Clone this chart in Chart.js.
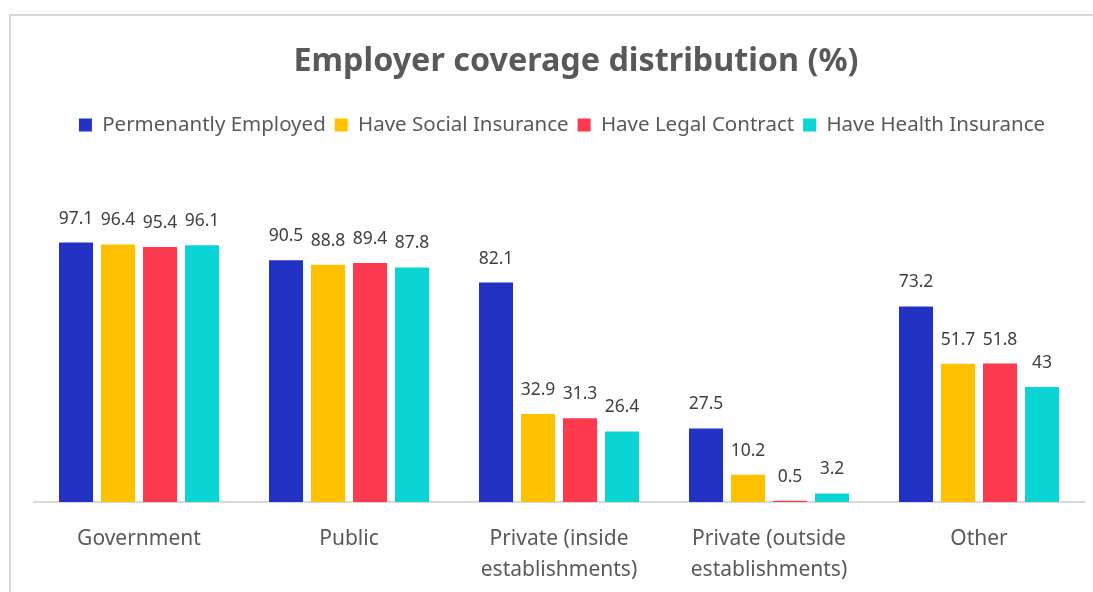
<!DOCTYPE html>
<html>
<head>
<meta charset="utf-8">
<script src="https://cdn.jsdelivr.net/npm/chart.js@4.4.1/dist/chart.umd.min.js"></script>
<style>
  html, body { margin: 0; padding: 0; background: #ffffff; overflow: hidden; }
  #frame {
    position: absolute; left: 9px; top: 14px; width: 1200px; height: 700px;
    border-left: 2px solid #d9d9d9; border-top: 2px solid #d9d9d9;
  }
  #chart { position: absolute; left: 0; top: 0; }
</style>
</head>
<body>
<div id="frame"></div>
<canvas id="chart" width="1093" height="607"></canvas>
<script>
// Employer types and coverage shares (%)
const categories = [
  'Government',
  'Public',
  ['Private (inside', 'establishments)'],
  ['Private (outside', 'establishments)'],
  'Other'
];
const seriesNames = [
  'Permenantly Employed',
  'Have Social Insurance',
  'Have Legal Contract',
  'Have Health Insurance'
];
const permanentlyEmployed = [97.1, 90.5, 82.1, 27.5, 73.2];
const socialInsurance     = [96.4, 88.8, 32.9, 10.2, 51.7];
const legalContract       = [95.4, 89.4, 31.3, 0.5, 51.8];
const healthInsurance     = [96.1, 87.8, 26.4, 3.2, 43];
const seriesColors = ['#2132C5', '#FFC000', '#FD3A4E', '#0AD4D4'];

const FONT = "'Noto Sans', 'Open Sans', sans-serif";

// Value labels drawn above each bar
const valueLabels = {
  id: 'valueLabels',
  afterDatasetsDraw(chart) {
    const ctx = chart.ctx;
    ctx.save();
    ctx.font = '17.5px ' + FONT;
    ctx.fillStyle = '#404040';
    ctx.textAlign = 'center';
    ctx.textBaseline = 'middle';
    chart.data.datasets.forEach((ds, i) => {
      const meta = chart.getDatasetMeta(i);
      meta.data.forEach((bar, j) => {
        ctx.fillText(String(ds.data[j]), bar.x, bar.y - 24);
      });
    });
    ctx.restore();
  }
};

// Nudge the title and legend centring boxes to clear the plot's left gutter
const headerOffset = {
  id: 'headerOffset',
  afterLayout(chart) {
    if (chart.titleBlock) chart.titleBlock.left += 34;
    if (chart.legend) chart.legend.left += 6;
  }
};

const seriesValues = [permanentlyEmployed, socialInsurance, legalContract, healthInsurance];

new Chart(document.getElementById('chart'), {
  type: 'bar',
  data: {
    labels: categories,
    datasets: seriesNames.map((name, i) => ({
      label: name,
      data: seriesValues[i],
      backgroundColor: seriesColors[i],
      borderWidth: 0
    }))
  },
  options: {
    responsive: false,
    animation: false,
    layout: { padding: { left: 34, right: 9, top: 42, bottom: 0 } },
    datasets: { bar: { categoryPercentage: 0.8, barPercentage: 0.81 } },
    plugins: {
      title: {
        display: true,
        text: 'Employer coverage distribution (%)',
        color: '#595959',
        font: { family: FONT, size: 32.3, weight: 'bold' },
        padding: { top: 0, bottom: 25 }
      },
      legend: {
        display: true,
        position: 'top',
        labels: {
          color: '#595959',
          font: { family: FONT, size: 20.5 },
          boxWidth: 13,
          boxHeight: 13,
          padding: 9,
          usePointStyle: false
        }
      },
      tooltip: { enabled: false }
    },
    scales: {
      x: {
        grid: { display: true, color: 'transparent', drawTicks: false },
        border: { display: true, color: '#d9d9d9', width: 2 },
        ticks: {
          color: '#595959',
          font: { family: FONT, size: 21, lineHeight: 1.5 },
          padding: 21,
          maxRotation: 0,
          autoSkip: false
        }
      },
      y: {
        display: false,
        min: 0,
        max: 133.5
      }
    }
  },
  plugins: [valueLabels, headerOffset]
});
</script>
</body>
</html>
